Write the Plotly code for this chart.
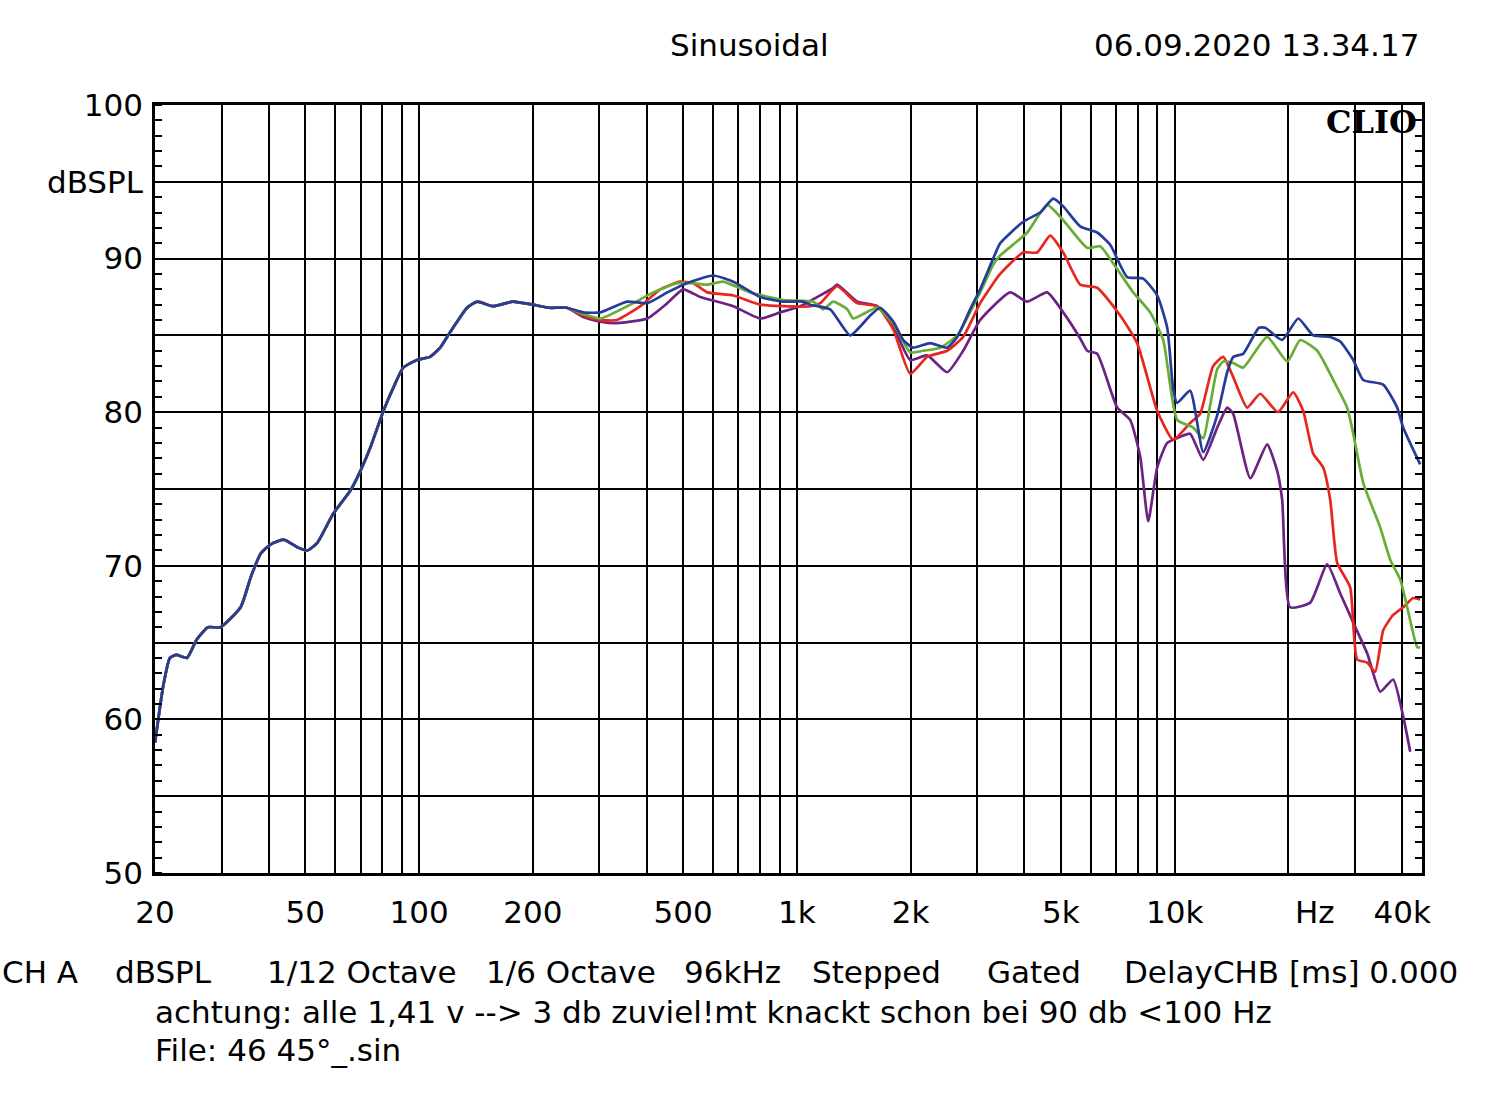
import plotly.graph_objects as go

# ---------------- data ----------------
# common low-frequency part (all four curves coincide here)
low_f = [20, 20.4, 21.0, 21.9, 22.8, 24.3, 25.8, 27.6, 29.8, 33.7, 35.9, 38.1, 40.5, 43.8,
         47.7, 50.6, 53.8, 59.3, 65.8, 70, 74.3, 80.5, 85.5, 90.8, 98.8, 106.9, 113.7,
         120.8, 134, 142.5, 157, 177, 200, 221, 246]
low_db = [58.5, 60.0, 62.1, 64.0, 64.2, 64.0, 65.2, 66.0, 66.0, 67.3, 69.3, 70.8, 71.4, 71.7,
          71.2, 71.0, 71.5, 73.4, 74.9, 76.2, 77.7, 80.1, 81.6, 82.9, 83.4, 83.6, 84.2,
          85.2, 86.8, 87.2, 86.9, 87.2, 87.0, 86.8, 86.8]

blue_f = [272, 302, 355, 402, 454, 512, 600, 679, 800, 920, 1039, 1084, 1225, 1384, 1564,
          1662, 1799, 1912, 2031, 2253, 2499, 2657, 2875, 3056, 3308, 3452, 3972, 4406,
          4770, 5069, 5622, 6236, 6751, 7486, 8254, 8988, 9555, 9909, 10150, 10990, 11900,
          12960, 13770, 14280, 15180, 16700, 17360, 19250, 21230, 23260, 25800, 27430,
          29690, 31550, 35640, 38810, 40250, 44650]
blue_db = [86.5, 86.5, 87.2, 87.1, 87.8, 88.4, 88.9, 88.5, 87.5, 87.2, 87.2, 87.0, 86.7, 85.0, 86.3,
           86.8, 85.9, 84.7, 84.2, 84.5, 84.2, 84.9, 86.7, 88.0, 90.0, 91.0, 92.4, 93.0,
           93.9, 93.4, 92.1, 91.7, 90.9, 88.8, 88.7, 87.6, 85.5, 81.5, 80.6, 81.4, 77.4,
           79.8, 82.6, 83.6, 83.8, 85.5, 85.5, 84.7, 86.1, 85.0, 84.9, 84.6,
           83.4, 82.1, 81.8, 80.3, 79.0, 76.6]

green_f = [272, 302, 369, 417, 482, 532, 579, 638, 752, 920, 1104, 1174, 1248, 1359, 1409,
           1631, 1799, 1995, 2160, 2395, 2657, 3056, 3308, 3452, 4070, 4598, 5069, 5867,
           6350, 6873, 7766, 8615, 9325, 10150, 11190, 11900, 12420, 12960, 13440, 14280,
           15180, 17570, 19860, 21490, 23840, 26280, 28610, 29690, 31550, 34990, 37190,
           39540, 41250, 43850, 44650]
green_db = [86.4, 86.1, 87.1, 87.8, 88.4, 88.4, 88.3, 88.5, 87.8, 87.3, 87.2, 86.7, 87.2, 86.7, 86.1,
            86.8, 85.8, 83.9, 84.0, 84.2, 85.0, 87.8, 89.6, 90.2, 91.7, 93.5, 92.5, 90.7,
            90.8, 89.7, 87.8, 86.5, 84.7, 79.5, 79.0, 78.3, 80.5, 82.8, 83.3, 83.2,
            82.9, 84.9, 83.3, 84.7, 84.0, 82.1, 80.3, 78.6, 75.4, 72.5, 70.4,
            69.1, 67.3, 64.7, 64.7]

red_f = [272, 302, 334, 385, 435, 491, 532, 579, 679, 800, 920, 1084, 1153, 1278, 1444,
         1631, 1799, 1995, 2212, 2499, 2755, 3056, 3452, 3972, 4325, 4683, 5069, 5622,
         6236, 7174, 7954, 8988, 9909, 10990, 11680, 12640, 13440, 14280, 15550, 16840,
         18760, 20590, 21880, 23260, 24720, 25800, 26920, 29140, 30410, 32320, 33940,
         35640, 37870, 40250, 42790, 44650]
red_db = [86.3, 86.0, 86.0, 86.9, 88.0, 88.5, 88.4, 87.8, 87.6, 87.0, 86.9, 86.9, 87.1, 88.2, 87.1,
          86.9, 85.4, 82.5, 83.6, 84.0, 84.9, 87.1, 89.0, 90.4, 90.4, 91.5, 90.4, 88.3,
          88.1, 86.3, 84.5, 80.1, 78.2, 79.3, 79.9, 83.0, 83.6, 82.3, 80.3, 81.2,
          80.0, 81.3, 80.1, 77.3, 76.4, 74.3, 70.2, 68.6, 63.9, 63.7, 63.1,
          65.8, 66.8, 67.3, 67.9, 67.8]

purple_f = [272, 302, 334, 402, 454, 500, 555, 679, 800, 903, 1020, 1248, 1278, 1444, 1631,
            1799, 1995, 2212, 2499, 2755, 3056, 3669, 4070, 4598, 5069, 5622, 5867, 6236,
            7044, 7624, 8105, 8511, 8988, 9555, 10340, 10990, 11900, 12960, 13770, 14280,
            15850, 17570, 18670, 19250, 20210, 22840, 25330, 27430, 29690, 32320, 34990,
            37870, 40250, 42020]
purple_db = [86.2, 85.9, 85.8, 86.1, 87.1, 88.0, 87.5, 86.9, 86.1, 86.5, 86.9, 88.1, 88.3, 87.2, 86.9,
             85.6, 83.4, 83.7, 82.6, 84.0, 86.0, 87.8, 87.2, 87.8, 86.5, 84.8, 84.0, 83.8,
             80.3, 79.5, 77.1, 72.9, 76.4, 78.0, 78.4, 78.6, 76.9, 79.0, 80.3, 79.9,
             75.7, 77.9, 76.2, 74.3, 67.3, 67.6, 70.1, 68.2, 66.3, 64.3, 61.8,
             62.6, 60.2, 57.9]

x_grid = [20, 30, 40, 50, 60, 70, 80, 90, 100, 200, 300, 400, 500, 600, 700, 800, 900,
          1000, 2000, 3000, 4000, 5000, 6000, 7000, 8000, 9000, 10000, 20000, 30000, 40000]
x_labels = {20: "20", 50: "50", 100: "100", 200: "200", 500: "500", 1000: "1k",
            2000: "2k", 5000: "5k", 10000: "10k", 40000: "40k"}
y_grid = [50, 55, 60, 65, 70, 75, 80, 85, 90, 95, 100]
y_labels = {50: "50", 60: "60", 70: "70", 80: "80", 90: "90", 95: "dBSPL", 100: "100"}

footer_items = [("CH A", 0), ("dBSPL", 113), ("1/12 Octave", 265), ("1/6 Octave", 484),
                ("96kHz", 682), ("Stepped", 810), ("Gated", 985), ("DelayCHB [ms] 0.000", 1122)]
note_line = "achtung: alle 1,41 v --> 3 db zuviel!mt knackt schon bei 90 db <100 Hz"
file_line = "File: 46 45°_.sin"
title_text = "Sinusoidal"
date_text = "06.09.2020 13.34.17"

# ---------------- figure ----------------
W, H = 1500, 1098
L, R, T, B = 155, 1422, 105, 873
FONT = "DejaVu Sans, Verdana, sans-serif"
FS = 31

def px(xp):
    return (xp - L) / (R - L)

def py(yp):
    return (B - yp) / (B - T)

fig = go.Figure()
series = [
    ("purple", purple_f, purple_db, "#6c2384"),
    ("red", red_f, red_db, "#e8261f"),
    ("green", green_f, green_db, "#68ad35"),
    ("blue", blue_f, blue_db, "#263c98"),
]
for name, f, d, c in series:
    fig.add_trace(go.Scatter(x=low_f + f, y=low_db + d, mode="lines", name=name,
                             line=dict(color=c, width=2.7, shape="spline", smoothing=0.5),
                             showlegend=False, hoverinfo="skip"))

# invisible trace for right-side minor ticks
fig.add_trace(go.Scatter(x=[20], y=[50], yaxis="y2", mode="markers",
                         marker=dict(opacity=0), showlegend=False, hoverinfo="skip"))

fig.update_layout(
    width=W, height=H,
    margin=dict(l=L, r=W - R, t=T, b=H - B, pad=0),
    paper_bgcolor="white", plot_bgcolor="white",
    font=dict(family=FONT, size=FS, color="black"),
    xaxis=dict(type="log", range=[1.30103, 4.6546],
               tickmode="array", tickvals=x_grid,
               ticktext=[x_labels.get(v, "") for v in x_grid],
               showgrid=True, gridcolor="black", gridwidth=1.9,
               showline=True, linecolor="black", linewidth=2.6, mirror=True,
               ticks="", ticklabelstandoff=10, zeroline=False,
               tickfont=dict(family=FONT, size=FS, color="black")),
    yaxis=dict(range=[50, 100], tickmode="array", tickvals=y_grid,
               ticktext=[y_labels.get(v, "") for v in y_grid],
               showgrid=True, gridcolor="black", gridwidth=1.9,
               showline=True, linecolor="black", linewidth=2.6, mirror=True,
               ticks="", ticklabelstandoff=3, zeroline=False,
               minor=dict(tickmode="linear", tick0=50, dtick=1, ticks="inside",
                          ticklen=7, tickwidth=2, tickcolor="black", showgrid=False),
               tickfont=dict(family=FONT, size=FS, color="black")),
    yaxis2=dict(range=[50, 100], overlaying="y", side="right", tickmode="linear",
                tick0=50, dtick=1, ticks="inside", ticklen=7, tickwidth=2,
                tickcolor="black", showticklabels=False, showgrid=False, zeroline=False,
                showline=False),
)

ann = []
ann.append(dict(text=title_text, x=px(749), y=py(45), xref="paper", yref="paper",
                xanchor="center", yanchor="middle", showarrow=False))
ann.append(dict(text=date_text, x=px(1421), y=py(45), xref="paper", yref="paper",
                xanchor="right", yanchor="middle", showarrow=False))
ann.append(dict(text="<b>CLIO</b>", x=px(1419), y=py(122), xref="paper", yref="paper",
                xanchor="right", yanchor="middle", showarrow=False,
                font=dict(family="DejaVu Serif, Liberation Serif, serif", size=32, color="black")))
ann.append(dict(text="Hz", x=px(1315), y=py(912), xref="paper", yref="paper",
                xanchor="center", yanchor="middle", showarrow=False))
for txt, xl in footer_items:
    ann.append(dict(text=txt, x=px(xl), y=py(972), xref="paper", yref="paper",
                    xanchor="left", yanchor="middle", showarrow=False))
ann.append(dict(text=note_line, x=px(153), y=py(1012), xref="paper", yref="paper",
                xanchor="left", yanchor="middle", showarrow=False))
ann.append(dict(text=file_line, x=px(153), y=py(1050), xref="paper", yref="paper",
                xanchor="left", yanchor="middle", showarrow=False))
fig.update_layout(annotations=ann)

fig.write_html("out.html")
